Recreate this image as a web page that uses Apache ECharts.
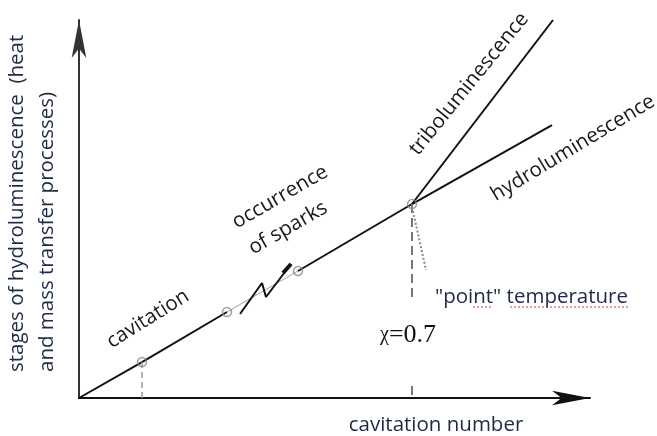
<!DOCTYPE html>
<html><head><meta charset="utf-8">
<script src="https://cdn.jsdelivr.net/npm/echarts@6/dist/echarts.min.js"></script>
<style>html,body{margin:0;padding:0;background:#fff}#c{width:657px;height:436px}</style>
</head><body><div id="c"></div>
<script>
// conceptual diagram values (x: cavitation number axis units, y: stage axis units)
const cavitationSeg = [[0,0],[1.233,0.952],[2.896,2.275]];
const sparkGap = [[2.896,2.275],[4.286,3.36]];
const midSeg = [[4.286,3.36],[6.517,5.132]];
const hydroSeg = [[6.517,5.132],[9.256,7.222]];
const triboSeg = [[6.517,5.132],[9.276,10.0]];
const sparkZigzag = [[3.151,2.222],[3.581,3.042],[3.659,2.672],[4.149,3.545]];
const sparkTip = [[3.992,3.307],[4.149,3.545]];
const markers = [[1.233,0.952],[2.896,2.275],[4.286,3.36],[6.517,5.132]];
const dropLow = [[1.233,0.952],[1.233,0]];
const dropCrit = [[6.517,5.132],[6.517,0]];
const pointer = [[6.517,5.05],[6.791,3.386]];
const labels = {
  yTitle1: 'stages of hydroluminescence  (heat',
  yTitle2: 'and mass transfer processes)',
  xTitle: 'cavitation number',
  cav: 'cavitation', occ: 'occurrence', spk: 'of sparks',
  tribo: 'triboluminescence', hydro: 'hydroluminescence',
  point: '"point" temperature', chi: 'χ', chiVal: '=0.7'
};

const chart = echarts.init(document.getElementById('c'), null, {renderer:'canvas'});
const navy = '#1c2a44';
const lab = '#1a1a1a';
const deg = Math.PI/180;
function line(data, color, width, type, z){
  return {type:'line', data, symbol:'none', clip:false, silent:true, z:z||2,
    lineStyle:{color, width, type: type||'solid'}, animation:false};
}
function txt(text, x, y, rot, font, fill, align){
  return {type:'text', x, y, rotation: rot||0, z:100,
    style:{text, font, fill, align: align||'center', verticalAlign:'middle'}};
}
const lf = '20.5px "Open Sans"';
chart.setOption({
  animation:false,
  grid:{left:79, right:67, top:20, bottom:38},
  xAxis:{type:'value', min:0, max:10, splitLine:{show:false}, axisTick:{show:false}, axisLabel:{show:false},
    axisLine:{show:true, onZero:false, symbol:['none','arrow'], symbolSize:[11,38], lineStyle:{color:'#111', width:2}}},
  yAxis:{type:'value', min:0, max:10, splitLine:{show:false}, axisTick:{show:false}, axisLabel:{show:false},
    axisLine:{show:true, onZero:false, symbol:['none','arrow'], symbolSize:[11,38], lineStyle:{color:'#333', width:2}}},
  series:[
    line(sparkGap, '#a0a0a0', 1),
    line(cavitationSeg, '#111', 2),
    line(midSeg, '#111', 2),
    line(hydroSeg, '#111', 2),
    line(triboSeg, '#111', 2),
    line(sparkZigzag, '#111', 2, 'solid', 3),
    line(sparkTip, '#111', 4, 'solid', 3),
    line(dropLow, '#999', 1.5, [6,4]),
    line(dropCrit, '#777', 2, [9,5]),
    line(pointer, '#888', 2, [2,2]),
    {type:'scatter', data:markers, symbol:'circle', symbolSize:9, z:4, silent:true,
      itemStyle:{color:'rgba(0,0,0,0)', borderColor:'#8a8a8a', borderWidth:1.5}}
  ],
  graphic:[
    {type:'rect', z:90, shape:{x:372, y:302, width:106, height:79}, style:{fill:'#fff'}},
    txt(labels.yTitle1, 17, 372, Math.PI/2, lf, navy, 'left'),
    txt(labels.yTitle2, 47, 372, Math.PI/2, lf, navy, 'left'),
    txt(labels.xTitle, 436, 425, 0, lf, navy),
    txt(labels.cav, 148, 319, 32*deg, lf, lab),
    txt(labels.occ, 280, 197, 30*deg, lf, lab),
    txt(labels.spk, 288, 228, 30*deg, lf, lab),
    txt(labels.tribo, 469, 84, 51*deg, lf, lab),
    txt(labels.hydro, 573, 148, 31*deg, lf, lab),
    txt(labels.point, 435, 297, 0, lf, navy, 'left'),
    {type:'line', z:100, shape:{x1:473, y1:307, x2:492, y2:307}, style:{stroke:'#e33', lineWidth:1, lineDash:[2,2]}},
    {type:'line', z:100, shape:{x1:510, y1:307, x2:630, y2:307}, style:{stroke:'#e33', lineWidth:1, lineDash:[2,2]}},
    {type:'text', x:380, y:335, z:100, style:{text:'{a|' + labels.chi + '}{b|' + labels.chiVal + '}', verticalAlign:'middle', align:'left',
      rich:{a:{font:'20px "Liberation Serif"', fill:'#111'}, b:{font:'26px "Liberation Serif"', fill:'#111'}}}}
  ]
});
</script></body></html>
